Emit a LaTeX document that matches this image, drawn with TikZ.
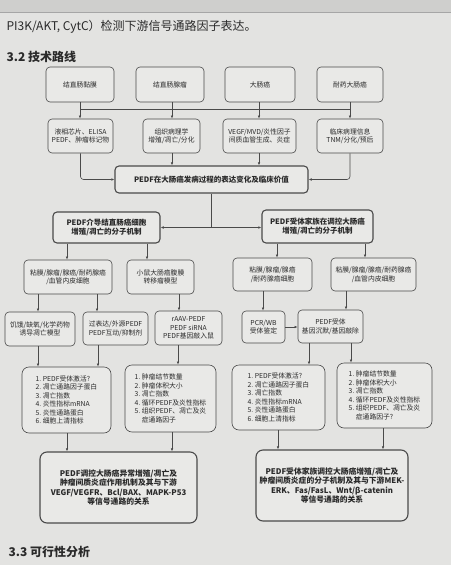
\documentclass[tikz,border=0pt]{standalone}
\usepackage{fontspec}
\setmainfont{Noto Sans CJK SC}
\usepackage{xcolor}
\usepackage{tikz}
\usetikzlibrary{positioning}
\usetikzlibrary{calc,arrows.meta}

\definecolor{pagebg}{HTML}{E3E3E1}
\definecolor{topbg}{HTML}{CFCFCD}
\definecolor{boxfill}{HTML}{E9E9E7}
\definecolor{linegray}{HTML}{4A4A4A}
\definecolor{inkgray}{HTML}{2A2A2A}

\begin{document}
\begin{tikzpicture}[
    x=1pt,y=-1pt,
    >={Latex[length=3.2pt,width=2.6pt]},
    box/.style={draw=linegray,line width=0.6pt,rounded corners=4pt,fill=boxfill,
        align=center,inner sep=1pt,text=inkgray,font=\fontsize{6.8}{8.5}\selectfont},
    keybox/.style={box,line width=1.1pt,font=\fontsize{7.5}{9.5}\selectfont\bfseries},
    endbox/.style={box,line width=1.1pt,rounded corners=7pt,font=\fontsize{7.8}{9.6}\selectfont\bfseries},
    listbox/.style={box,rounded corners=7pt,align=left},
    arr/.style={->,draw=linegray,line width=0.6pt},
    wire/.style={draw=linegray,line width=0.6pt},
    pagetext/.style={anchor=west,text=inkgray,font=\fontsize{12}{14}\selectfont}
    ]

    % page
    \useasboundingbox (0,0) rectangle (451,565);
    \fill[topbg] (0,0) rectangle (451,12);
    \fill[pagebg] (0,12) rectangle (451,565);
    \draw[gray!70,line width=0.5pt] (0,12) -- (451,12);

    \node[pagetext] (head) at (3,27) {PI3K/AKT, CytC）检测下游信号通路因子表达。};
    \node[pagetext,font=\fontsize{12}{14}\selectfont\bfseries] (sec) at (3,57) {3.2 技术路线};
    \node[pagetext,font=\fontsize{12}{14}\selectfont\bfseries] (next) at (5,552) {3.3 可行性分析};

    % samples
    \node[box,minimum width=68pt,minimum height=35pt] (t1) at (80,84.5) {结直肠黏膜};
    \node[box,minimum width=68pt,minimum height=35pt] (t2) at (170,84.5) {结直肠腺瘤};
    \node[box,minimum width=70pt,minimum height=35pt] (t3) at (260,84.5) {大肠癌};
    \node[box,minimum width=66pt,minimum height=35pt] (t4) at (350,84.5) {耐药大肠癌};

    % detection
    \node[box,minimum width=65pt,minimum height=34pt] (m1) at (80.5,136) {液相芯片、ELISA\\PEDF、肿瘤标记物};
    \node[box,minimum width=57pt,minimum height=34pt] (m2) at (171.5,136) {组织病理学\\增殖/凋亡/分化};
    \node[box,minimum width=73pt,minimum height=34pt] (m3) at (259.5,136) {VEGF/MVD/炎性因子\\间质血管生成、炎症};
    \node[box,minimum width=66pt,minimum height=34pt] (m4) at (350,136) {临床病理信息\\TNM/分化/预后};

    \node[keybox,minimum width=193pt,minimum height=27pt] (c) at (211.5,179.5) {PEDF在大肠癌发病过程的表达变化及临床价值};

    \node[keybox,minimum width=107pt,minimum height=31pt] (L) at (106.5,227.5) {PEDF介导结直肠癌细胞\\增殖/凋亡的分子机制};
    \node[keybox,minimum width=111pt,minimum height=33pt] (R) at (317.5,226.5) {PEDF受体家族在调控大肠癌\\增殖/凋亡的分子机制};

    % models
    \node[box,minimum width=88pt,minimum height=34pt] (A) at (68,277) {粘膜/腺瘤/腺癌/耐药腺癌\\/血管内皮细胞};
    \node[box,minimum width=67pt,minimum height=34pt] (B) at (160.5,277) {小鼠大肠癌腹膜\\转移瘤模型};
    \node[box,minimum width=79pt,minimum height=33pt] (C) at (272.5,274.5) {粘膜/腺瘤/腺癌\\/耐药腺癌细胞};
    \node[box,minimum width=85pt,minimum height=33pt] (D) at (373.5,274.5) {粘膜/腺瘤/腺癌/耐药腺癌\\/血管内皮细胞};

    \node[box,minimum width=70pt,minimum height=34pt] (E) at (40,329) {饥饿/缺氧/化学药物\\诱导凋亡模型};
    \node[box,minimum width=65pt,minimum height=33pt] (F) at (115.5,328.5) {过表达/外源PEDF\\PEDF互动/抑制剂};
    \node[box,minimum width=67pt,minimum height=34pt] (G) at (188.5,328) {rAAV-PEDF\\PEDF siRNA\\PEDF基因敲入鼠};
    \node[box,minimum width=43pt,minimum height=32pt] (H) at (263.5,327) {PCR/WB\\受体鉴定};
    \node[box,minimum width=65pt,minimum height=33pt] (I) at (330.5,326.5) {PEDF受体\\基因沉默/基因敲除};

    % read-outs
    \node[listbox,minimum width=89pt,minimum height=66pt] (J) at (66.5,400)
        {1.\ PEDF受体激活?\\2.\ 凋亡通路因子蛋白\\3.\ 凋亡指数\\4.\ 炎性指标mRNA\\5.\ 炎性通路蛋白\\6.\ 细胞上清指标};
    \node[listbox,minimum width=91pt,minimum height=67pt] (K) at (170.5,398.5)
        {1.\ 肿瘤结节数量\\2.\ 肿瘤体积大小\\3.\ 凋亡指数\\4.\ 循环PEDF及炎性指标\\5.\ 组织PEDF、凋亡及炎\\\hphantom{5.\ }症通路因子};
    \node[listbox,minimum width=93pt,minimum height=65pt] (Lb) at (278.5,397.5)
        {1.\ PEDF受体激活?\\2.\ 凋亡通路因子蛋白\\3.\ 凋亡指数\\4.\ 炎性指标mRNA\\5.\ 炎性通路蛋白\\6.\ 细胞上清指标};
    \node[listbox,minimum width=95pt,minimum height=65pt] (M) at (384.5,395.5)
        {1.\ 肿瘤结节数量\\2.\ 肿瘤体积大小\\3.\ 凋亡指数\\4.\ 循环PEDF及炎性指标\\5.\ 组织PEDF、凋亡及炎\\\hphantom{5.\ }症通路因子?};

    % conclusions
    \node[endbox,minimum width=157pt,minimum height=71pt] (N) at (118.5,487.5)
        {PEDF调控大肠癌异常增殖/凋亡及\\肿瘤间质炎症作用机制及其与下游\\VEGF/VEGFR、Bcl/BAX、MAPK-P53\\等信号通路的关系};
    \node[endbox,minimum width=152pt,minimum height=71pt] (O) at (332,485.5)
        {PEDF受体家族调控大肠癌增殖/凋亡及\\肿瘤间质炎症的分子机制及其与下游MEK-\\ERK、Fas/FasL、Wnt/β-catenin\\等信号通路的关系};

    % connectors
    \draw[wire] (t1.south |- 0,109) -- (t4.south |- 0,109);
    \foreach \s/\t/\x in {t1/m1/80, t2/m2/172, t3/m3/259, t4/m4/350,
                          m2/c/172, m3/c/259,
                          L/A/67, L/B/147, R/C/277, R/D/365,
                          A/E/38, A/F/97, B/G/179, C/H/263, D/I/346,
                          E/J/38, F/J/98, G/K/178, I/Lb/309, I/M/351,
                          J/N/67, K/N/172, Lb/O/278, M/O/383}
        \draw[arr] (\s.south -| \x,0) -- (\t.north -| \x,0);

    \draw[arr,rounded corners=3pt] (m1.south) |- (c.west);
    \draw[arr,rounded corners=3pt] (m4.south) |- (c.east);
    \draw[wire] (c.south) -- (c.south |- L.east);
    \draw[arr,<->] (L.east) -- (R.west |- L.east);
    \draw[arr] (H.east) -- (I.west |- H.east);
  \end{tikzpicture}
\end{document}
